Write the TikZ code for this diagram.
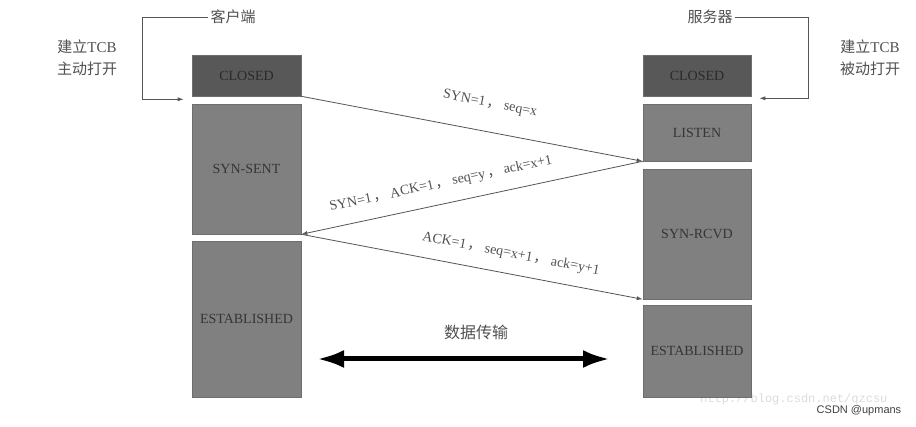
\documentclass[tikz,border=0pt]{standalone}
\usepackage{fontspec}
\setmainfont{Liberation Serif}
\newfontfamily\lblfont[Kerning=Off]{Liberation Serif}
\newfontfamily\cjk{Noto Sans CJK SC}
\newfontfamily\csdnfont{Liberation Sans}
\newfontfamily\wmfont{Liberation Mono}
\usetikzlibrary{arrows.meta}
\definecolor{closedgray}{HTML}{585858}
\definecolor{boxgray}{HTML}{808080}
\definecolor{boxedge}{HTML}{6E6E6E}
\definecolor{boxtext}{HTML}{353535}
\definecolor{closedtext}{HTML}{2A2A2A}
\definecolor{linegray}{HTML}{555555}
\definecolor{lblgray}{HTML}{505050}
\definecolor{wmgray}{HTML}{DCDCDC}
\newcommand{\fwc}{\hspace{2pt}{\cjk ，}\hspace{3pt}}
\tikzset{
  statebox/.style={draw=boxedge, fill=boxgray, line width=0.6pt, inner sep=0pt,
    font=\fontsize{14}{16}\selectfont, text=boxtext},
  closedbox/.style={statebox, fill=closedgray, text=closedtext},
  msg/.style={draw=linegray, line width=0.8pt, -{Latex[length=6pt,width=4pt]}},
  lbl/.style={text=lblgray, font=\lblfont\fontsize{14}{16}\selectfont, inner sep=1pt},
  bracket/.style={draw=linegray, line width=0.8pt, -{Latex[length=6pt,width=4pt]}},
  side/.style={align=center, text=lblgray, font=\fontsize{15}{22}\selectfont},
  title/.style={text=lblgray, font=\cjk\fontsize{15}{18}\selectfont, inner sep=2pt},
  dataarrow/.style={line width=5pt, {Latex[length=27pt,width=18pt]}-{Latex[length=27pt,width=18pt]}}
}
\begin{document}
\begin{tikzpicture}[x=1pt,y=-1pt]
\useasboundingbox[fill=white] (0,0) rectangle (916,427);

% faint watermark
\node[anchor=west, text=wmgray, font=\wmfont\fontsize{12}{14}\selectfont, inner sep=0pt] (wm) at (700,399) {http://blog.csdn.net/qzcsu};

% client column
\node[closedbox, minimum width=109pt, minimum height=41pt] (lc) at (246.5,75.5) {CLOSED};
\node[statebox, minimum width=109pt, minimum height=130pt] (ls) at (246.5,169) {SYN-SENT};
\node[statebox, minimum width=109pt, minimum height=156pt] (le) at (246.5,319) {ESTABLISHED};

% server column
\node[closedbox, minimum width=108pt, minimum height=41pt] (rc) at (697,75.5) {CLOSED};
\node[statebox, minimum width=108pt, minimum height=57pt] (rl) at (697,132.5) {LISTEN};
\node[statebox, minimum width=108pt, minimum height=130pt] (rs) at (697,234) {SYN-RCVD};
\node[statebox, minimum width=108pt, minimum height=92pt] (re) at (697,351) {ESTABLISHED};

% titles and brackets
\node[title] (client) at (233,17) {客户端};
\node[title] (server) at (710,17) {服务器};
\draw[bracket] (client.west) -- (142,17) |- ([shift={(-8pt,-3pt)}]lc.south west);
\draw[bracket] (server.east) -- (808,17) |- ([shift={(8pt,-2pt)}]rc.south east);

\node[side] (lside) at (87,58) {{\cjk 建立}TCB\\{\cjk 主动打开}};
\node[side] (rside) at (870,58) {{\cjk 建立}TCB\\{\cjk 被动打开}};

% handshake messages
\draw[msg] (lc.south east) -- (rl.south west);
\draw[msg] (rl.south west) -- (ls.south east);
\draw[msg] (ls.south east) -- (rs.south west);

\node[lbl, rotate=-11] (m1) at (490,104) {SYN=1\fwc seq=x};
\node[lbl, rotate=12] (m2) at (441,184) {SYN=1\fwc ACK=1\fwc seq=y\fwc ack=x+1};
\node[lbl, rotate=-11] (m3) at (511,254) {ACK=1\fwc seq=x+1\fwc ack=y+1};

% data transfer
\coordinate (dl) at (317,359);
\coordinate (dr) at (610,359);
\draw[dataarrow] (dl) -- (dr);
\node[title, font=\cjk\fontsize{16}{18}\selectfont] (data) at (476,332) {数据传输};

\node[text=black!75, font=\csdnfont\fontsize{11}{13}\selectfont, inner sep=0pt] (csdn) at (859,411) {CSDN @upmans};
\end{tikzpicture}
\end{document}
